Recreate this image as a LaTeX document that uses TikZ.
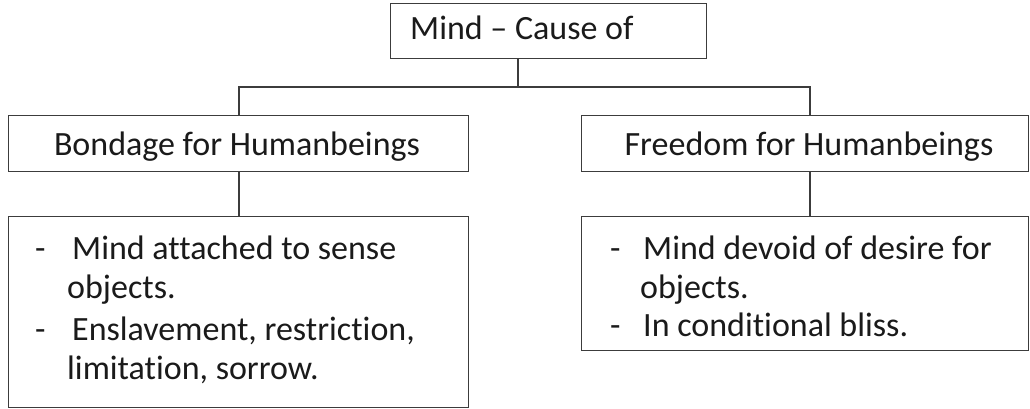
\documentclass[tikz,border=0pt]{standalone}
\usepackage{fontspec}
\setmainfont[Ligatures=NoCommon]{Carlito}
\definecolor{edge}{HTML}{3C3C3C}
\definecolor{ink}{HTML}{1A1A1A}
\tikzset{
  x=1pt, y=1pt,
  panel/.style={draw=edge, line width=1.3pt, inner sep=0pt, anchor=north west, fill=white},
  link/.style={draw=edge, line width=1.3pt},
  txt/.style={inner sep=0pt, anchor=base west, text=ink, font=\fontsize{34}{40}\selectfont},
  head/.style={txt, anchor=base},
}
\begin{document}
\begin{tikzpicture}
  \useasboundingbox (0,0) rectangle (1030,-409);

  % boxes
  \node[panel, minimum width=316pt, minimum height=55pt] (top)  at (390,-3)   {};
  \node[panel, minimum width=460pt, minimum height=56pt] (bond) at (8,-115)   {};
  \node[panel, minimum width=447pt, minimum height=56pt] (free) at (581,-115) {};
  \node[panel, minimum width=460pt, minimum height=191pt] (bl)  at (8,-216)   {};
  \node[panel, minimum width=447pt, minimum height=134pt] (fr)  at (581,-216) {};

  % junction points of the tree
  \coordinate (jt) at (518,-87);
  \coordinate (jl) at (239,-87);
  \coordinate (jr) at (810,-87);

  % connectors
  \draw[link] (jt |- top.south) -- (jt);
  \draw[link] (jl |- bond.north) -- (jl) -- (jr) -- (jr |- free.north);
  \draw[link] (jl |- bond.south) -- (jl |- bl.north);
  \draw[link] (jr |- free.south) -- (jr |- fr.north);

  % headings
  \node[txt]  (ttop)  at (410,-40)  {Mind – Cause of};
  \node[head] (tbond) at (237,-155) {Bondage for Humanbeings};
  \node[head] (tfree) at (809,-155) {Freedom for Humanbeings};

  % left list
  \node[txt] (ld1) at (35,-259)  {-};
  \node[txt] (l1)  at (72,-259)  {Mind attached to sense};
  \node[txt] (l2)  at (67,-298)  {objects.};
  \node[txt] (ld2) at (35,-340)  {-};
  \node[txt] (l3)  at (72,-340)  {Enslavement, restriction,};
  \node[txt] (l4)  at (67,-379)  {limitation, sorrow.};

  % right list
  \node[txt] (rd1) at (610,-259) {-};
  \node[txt] (r1)  at (643,-259) {Mind devoid of desire for};
  \node[txt] (r2)  at (640,-298) {objects.};
  \node[txt] (rd2) at (610,-336) {-};
  \node[txt] (r3)  at (643,-336) {In conditional bliss.};
\end{tikzpicture}
\end{document}
